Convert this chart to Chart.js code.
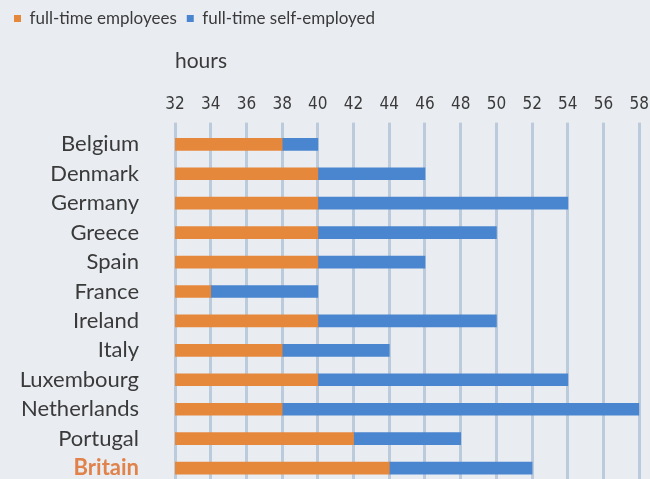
<!DOCTYPE html>
<html>
<head>
<meta charset="utf-8">
<script src="https://cdn.jsdelivr.net/npm/chart.js@4"></script>
<style>
  html, body { margin: 0; padding: 0; background: #e9edf2; overflow: hidden; }
</style>
</head>
<body>
<!-- canvas is a bit larger than the window: the reference crops the last row -->
<canvas id="myChart" width="657" height="524"></canvas>
<script>
// data
var countries = ['Belgium', 'Denmark', 'Germany', 'Greece', 'Spain', 'France', 'Ireland', 'Italy', 'Luxembourg', 'Netherlands', 'Portugal', 'Britain'];
var employees = [38, 40, 40, 40, 40, 34, 40, 38, 40, 38, 42, 44];
var selfEmployed = [40, 46, 54, 50, 46, 40, 50, 44, 54, 58, 48, 52];
var axisMin = 32;
var axisMax = 58;

var orange = '#e5883c';
var blue = '#4a85cf';
var textCol = '#3a3a3a';

var ctx = document.getElementById('myChart').getContext('2d');
var myChart = new Chart(ctx, {
    type: 'bar',
    data: {
        labels: countries,
        datasets: [{
            label: 'full-time employees',
            data: employees.map(function (v) { return [axisMin, v]; }),
            backgroundColor: orange,
            barThickness: 12
        }, {
            label: 'full-time self-employed',
            data: employees.map(function (v, i) { return [v, selfEmployed[i]]; }),
            backgroundColor: blue,
            barThickness: 12
        }]
    },
    options: {
        indexAxis: 'y',
        responsive: false,
        animation: false,
        layout: { padding: { left: 4, right: 0, top: 0, bottom: 0 } },
        plugins: {
            legend: {
                position: 'top',
                align: 'start',
                labels: {
                    boxWidth: 7,
                    boxHeight: 7,
                    padding: 10,
                    color: textCol,
                    font: { family: 'Lato', size: 17 }
                }
            },
            tooltip: { enabled: false }
        },
        scales: {
            x: {
                position: 'top',
                min: axisMin,
                max: axisMax,
                grid: {
                    color: '#bccbdb',
                    lineWidth: 3,
                    drawTicks: true,
                    tickLength: 7,
                    tickColor: '#bccbdb'
                },
                border: { display: false },
                ticks: {
                    stepSize: 2,
                    padding: 8,
                    color: textCol,
                    font: { family: '"DejaVu Sans Condensed", "DejaVu Sans"', size: 17 }
                },
                title: {
                    display: true,
                    text: 'hours',
                    align: 'start',
                    color: textCol,
                    font: { family: 'Lato', size: 21 },
                    padding: { top: 12, bottom: 12 }
                }
            },
            y: {
                stacked: true,
                grid: { display: false },
                border: { display: false },
                afterFit: function (scale) { scale.width = 171; },
                ticks: {
                    autoSkip: false,
                    padding: 28,
                    color: function (c) { return c.index === countries.length - 1 ? '#e0824a' : textCol; },
                    font: function (c) {
                        return c.index === countries.length - 1
                            ? { family: 'Lato', size: 22, weight: 'bold' }
                            : { family: 'Lato', size: 22 };
                    }
                }
            }
        }
    }
});
</script>
</body>
</html>
